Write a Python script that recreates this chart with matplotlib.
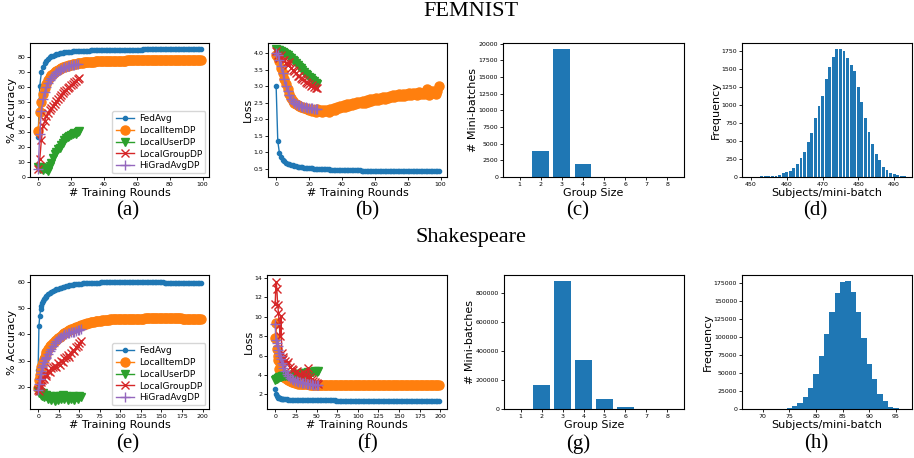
import numpy as np
import matplotlib
matplotlib.use("Agg")
import matplotlib.pyplot as plt

# ---------------- FEMNIST ----------------
fem_rounds = np.arange(100)
fem_rounds_dp = np.arange(26)

fem_acc_fedavg = [26.5, 61.0, 70.2, 73.8, 76.3, 77.9, 79.1, 80.0, 80.7, 81.3,
                  81.8, 82.2, 82.5, 82.8, 83.0, 83.2, 83.4, 83.5, 83.7, 83.8,
                  83.9, 84.0, 84.1, 84.2, 84.2, 84.3, 84.4, 84.4, 84.5, 84.5,
                  84.6, 84.6, 84.7, 84.7, 84.7, 84.8, 84.8, 84.8, 84.9, 84.9,
                  84.9, 85.0, 85.0, 85.0, 85.0, 85.1, 85.1, 85.1, 85.1, 85.1,
                  85.2, 85.2, 85.2, 85.2, 85.2, 85.2, 85.3, 85.3, 85.3, 85.3,
                  85.3, 85.3, 85.3, 85.3, 85.4, 85.4, 85.4, 85.4, 85.4, 85.4,
                  85.4, 85.4, 85.4, 85.5, 85.5, 85.5, 85.5, 85.5, 85.5, 85.5,
                  85.5, 85.5, 85.5, 85.5, 85.6, 85.6, 85.6, 85.6, 85.6, 85.6,
                  85.6, 85.6, 85.6, 85.6, 85.6, 85.6, 85.6, 85.6, 85.6, 85.6]
fem_acc_item = [31.0, 43.5, 50.0, 55.5, 59.5, 62.5, 64.8, 66.6, 68.0, 69.2,
                70.2, 71.0, 71.7, 72.3, 72.9, 73.4, 73.8, 74.2, 74.6, 74.9,
                75.2, 75.5, 75.7, 75.9, 76.1, 76.3, 76.4, 76.6, 76.7, 76.8,
                76.9, 77.0, 77.1, 77.2, 77.2, 77.3, 77.4, 77.4, 77.5, 77.5,
                77.6, 77.6, 77.6, 77.7, 77.7, 77.7, 77.8, 77.8, 77.8, 77.8,
                77.9, 77.9, 77.9, 77.9, 78.0, 78.0, 78.0, 78.0, 78.0, 78.1,
                78.1, 78.1, 78.1, 78.1, 78.1, 78.2, 78.2, 78.2, 78.2, 78.2,
                78.2, 78.2, 78.3, 78.3, 78.3, 78.3, 78.3, 78.3, 78.3, 78.3,
                78.3, 78.4, 78.4, 78.4, 78.4, 78.4, 78.4, 78.4, 78.4, 78.4,
                78.4, 78.4, 78.5, 78.5, 78.5, 78.5, 78.5, 78.5, 78.5, 78.5]
fem_acc_user = [6.5, 5.0, 6.5, 4.5, 6.0, 5.5, 4.0, 7.0, 9.5, 12.5,
                15.0, 16.5, 18.5, 19.5, 21.5, 23.0, 24.5, 26.0, 26.5, 27.5,
                28.0, 28.5, 29.5, 28.5, 30.0, 30.5]
fem_acc_group = [5.0, 12.0, 25.0, 34.0, 37.5, 40.5, 42.5, 44.5, 46.0, 47.5,
                 49.0, 50.5, 52.0, 53.5, 55.0, 56.5, 57.5, 58.5, 59.5, 60.5,
                 61.5, 62.5, 63.5, 64.5, 65.5, 66.0]
fem_acc_higrad = [5.0, 29.0, 44.0, 52.0, 57.0, 60.5, 63.0, 65.0, 66.5, 67.8,
                  69.0, 70.0, 71.0, 71.7, 72.3, 72.9, 73.4, 73.8, 74.2, 74.5,
                  74.8, 75.0, 75.2, 75.4, 75.5]

fem_loss_fedavg = [2.99, 1.33, 0.97, 0.84, 0.77, 0.72, 0.68, 0.65, 0.63, 0.61,
                   0.60, 0.58, 0.57, 0.56, 0.55, 0.55, 0.54, 0.53, 0.53, 0.52,
                   0.52, 0.51, 0.51, 0.50, 0.50, 0.50, 0.49, 0.49, 0.49, 0.48,
                   0.48, 0.48, 0.48, 0.47, 0.47, 0.47, 0.47, 0.47, 0.46, 0.46,
                   0.46, 0.46, 0.46, 0.46, 0.45, 0.45, 0.45, 0.45, 0.45, 0.45,
                   0.45, 0.45, 0.44, 0.44, 0.44, 0.44, 0.44, 0.44, 0.44, 0.44,
                   0.44, 0.44, 0.44, 0.44, 0.44, 0.44, 0.44, 0.44, 0.44, 0.44,
                   0.44, 0.44, 0.44, 0.44, 0.44, 0.44, 0.44, 0.44, 0.44, 0.44,
                   0.43, 0.43, 0.43, 0.43, 0.43, 0.43, 0.43, 0.43, 0.43, 0.43,
                   0.43, 0.43, 0.43, 0.43, 0.43, 0.43, 0.43, 0.43, 0.43, 0.43]
fem_loss_item = [3.95, 3.85, 3.75, 3.55, 3.40, 3.20, 3.05, 2.90, 2.75, 2.65,
                 2.55, 2.50, 2.45, 2.42, 2.40, 2.38, 2.36, 2.35, 2.33, 2.30,
                 2.28, 2.30, 2.25, 2.27, 2.22, 2.30, 2.24, 2.27, 2.21, 2.26,
                 2.23, 2.28, 2.22, 2.30, 2.26, 2.33, 2.29, 2.36, 2.33, 2.40,
                 2.36, 2.42, 2.38, 2.45, 2.40, 2.47, 2.43, 2.50, 2.45, 2.52,
                 2.48, 2.53, 2.49, 2.56, 2.50, 2.58, 2.53, 2.60, 2.55, 2.62,
                 2.57, 2.63, 2.58, 2.65, 2.60, 2.67, 2.62, 2.68, 2.64, 2.70,
                 2.66, 2.72, 2.67, 2.73, 2.69, 2.75, 2.70, 2.76, 2.71, 2.77,
                 2.73, 2.78, 2.74, 2.79, 2.75, 2.80, 2.74, 2.81, 2.76, 2.80,
                 2.75, 2.82, 2.92, 2.74, 2.85, 2.78, 2.84, 2.76, 2.86, 3.00]
fem_loss_user = [4.12, 4.10, 4.08, 4.06, 4.03, 4.00, 3.97, 3.93, 3.89, 3.85,
                 3.80, 3.75, 3.70, 3.64, 3.59, 3.54, 3.48, 3.43, 3.38, 3.33,
                 3.28, 3.24, 3.19, 3.15, 3.10, 3.06]
fem_loss_group = [4.05, 3.95, 3.85, 3.95, 3.78, 3.80, 3.70, 3.65, 3.72, 3.55,
                  3.50, 3.45, 3.40, 3.30, 3.32, 3.25, 3.20, 3.18, 3.12, 3.10,
                  3.05, 3.00, 3.02, 2.96, 2.95, 2.93]
fem_loss_higrad = [4.00, 3.95, 3.80, 3.60, 3.40, 3.20, 3.00, 2.85, 2.72, 2.62,
                   2.55, 2.50, 2.46, 2.43, 2.42, 2.40, 2.38, 2.37, 2.36, 2.35,
                   2.34, 2.33, 2.33, 2.32, 2.32, 2.31]

group_sizes = [1, 2, 3, 4, 5, 6, 7, 8]
fem_group_counts = [60, 3880, 19140, 1910, 70, 50, 40, 30]

fem_subjects = np.arange(450, 495)
fem_subject_freq = [5, 5, 5, 8, 8, 10, 10, 20, 25, 50,
                    65, 80, 120, 175, 260, 350, 480, 610, 820, 980,
                    1130, 1360, 1530, 1670, 1770, 1770, 1750, 1650, 1560, 1470,
                    1250, 1040, 820, 630, 460, 320, 240, 140, 100, 60,
                    40, 25, 15, 10, 5]

# ---------------- Shakespeare ----------------
sh_rounds = list(range(10)) + list(range(10, 200, 2))
sh_rounds_dp = list(range(10)) + list(range(10, 53, 2))

sh_acc_fedavg = [26.6, 43.3, 47.1, 49.4, 50.9, 51.9, 52.7, 53.3, 53.8, 54.2,
                 54.5, 55.1, 55.6, 56.0, 56.4, 56.7, 57.0, 57.3, 57.5, 57.7,
                 57.9, 58.1, 58.3, 58.4, 58.6, 58.7, 58.8, 58.9, 59.0, 59.1,
                 59.1, 59.2, 59.3, 59.3, 59.4, 59.4, 59.5, 59.5, 59.5, 59.6,
                 59.6, 59.6, 59.6, 59.7, 59.7, 59.7, 59.7, 59.7, 59.7, 59.7,
                 59.8, 59.8, 59.8, 59.8, 59.8, 59.8, 59.8, 59.8, 59.8, 59.8,
                 59.8, 59.8, 59.8, 59.8, 59.8, 59.8, 59.8, 59.8, 59.8, 59.8,
                 59.7, 59.7, 59.7, 59.7, 59.7, 59.7, 59.7, 59.7, 59.7, 59.7,
                 59.7, 59.7, 59.6, 59.6, 59.6, 59.6, 59.6, 59.5, 59.5, 59.5,
                 59.5, 59.5, 59.4, 59.4, 59.4, 59.4, 59.4, 59.4, 59.3, 59.3,
                 59.3, 59.3, 59.3, 59.3, 59.3]
sh_acc_item = [19.5, 22.5, 24.5, 26.0, 27.5, 28.5, 29.5, 30.5, 31.5, 32.5,
               33.3, 34.5, 35.5, 35.8, 36.6, 37.3, 37.9, 38.5, 39.0, 39.5,
               40.0, 40.4, 40.8, 41.2, 41.5, 41.8, 42.1, 42.4, 42.6, 42.9,
               43.1, 43.4, 43.6, 43.8, 44.0, 44.2, 44.4, 44.5, 44.7, 44.8,
               44.9, 45.0, 45.1, 45.2, 45.3, 45.4, 45.4, 45.5, 45.5, 45.6,
               45.6, 45.7, 45.7, 45.7, 45.8, 45.8, 45.8, 45.8, 45.9, 45.9,
               45.9, 45.9, 45.9, 45.9, 45.9, 45.9, 45.9, 45.9, 45.9, 45.9,
               46.0, 46.0, 46.0, 46.0, 46.0, 46.0, 46.0, 46.0, 46.0, 46.0,
               46.0, 46.0, 46.0, 46.0, 46.0, 46.0, 46.0, 46.0, 46.0, 46.0,
               46.0, 46.0, 46.0, 45.9, 45.9, 45.9, 45.9, 45.9, 45.9, 45.9,
               45.9, 45.9, 45.8, 45.8, 45.8]
sh_acc_user = [18.5, 17.5, 18.0, 17.0, 17.5, 16.5, 17.5, 16.0, 17.0, 16.5,
               17.0, 15.5, 16.5, 15.0, 16.0, 14.5, 16.5, 15.0, 16.5, 15.5,
               17.0, 15.5, 16.5, 15.0, 16.0, 15.5, 16.5, 15.0, 16.0, 15.5,
               16.5, 16.0]
sh_acc_group = [19.0, 18.5, 19.5, 20.5, 22.0, 22.5, 23.5, 23.0, 24.5, 24.0,
                25.0, 26.0, 25.5, 27.0, 27.5, 28.0, 27.5, 29.0, 28.5, 30.0,
                29.5, 31.0, 31.5, 32.0, 31.5, 33.0, 34.0, 33.5, 35.0, 35.5,
                36.5, 37.5]
sh_acc_higrad = [19.0, 21.0, 23.0, 25.0, 26.0, 27.5, 28.5, 29.5, 30.5, 31.0,
                 31.5, 32.5, 33.5, 34.5, 35.5, 36.5, 37.5, 38.0, 38.5, 39.0,
                 39.5, 40.0, 40.0, 40.5, 40.5, 41.0, 41.0, 41.0, 41.3, 41.5,
                 41.5, 41.8]

sh_loss_fedavg = [2.55, 2.00, 1.85, 1.75, 1.68, 1.63, 1.60, 1.57, 1.55, 1.53,
                  1.52, 1.50, 1.48, 1.47, 1.46, 1.45, 1.44, 1.43, 1.42, 1.42,
                  1.41, 1.41, 1.40, 1.40, 1.40, 1.39, 1.39, 1.39, 1.39, 1.38,
                  1.38, 1.38, 1.38, 1.38, 1.38, 1.38, 1.38, 1.38, 1.38, 1.38,
                  1.38, 1.38, 1.37, 1.37, 1.37, 1.37, 1.37, 1.37, 1.37, 1.37,
                  1.37, 1.37, 1.37, 1.37, 1.37, 1.37, 1.37, 1.37, 1.37, 1.37,
                  1.37, 1.37, 1.37, 1.37, 1.37, 1.37, 1.37, 1.37, 1.37, 1.37,
                  1.36, 1.36, 1.36, 1.36, 1.36, 1.36, 1.36, 1.36, 1.36, 1.36,
                  1.36, 1.36, 1.36, 1.36, 1.36, 1.36, 1.36, 1.36, 1.36, 1.36,
                  1.36, 1.36, 1.36, 1.36, 1.36, 1.36, 1.36, 1.36, 1.36, 1.36,
                  1.36, 1.36, 1.36, 1.36, 1.36]
sh_loss_item = [7.8, 9.4, 6.7, 6.0, 5.5, 4.6, 5.2, 4.4, 4.2, 4.0,
                3.9, 3.7, 3.6, 3.5, 3.4, 3.3, 3.25, 3.2, 3.15, 3.1,
                3.10, 3.08, 3.06, 3.05, 3.04, 3.03, 3.02, 3.02, 3.01, 3.01,
                3.00, 2.98, 3.01, 2.99, 3.00, 2.97, 3.00, 2.98, 3.01, 2.99,
                2.98, 3.00, 2.97, 2.99, 3.00, 2.98, 2.99, 3.01, 2.98, 3.00,
                2.99, 2.97, 3.00, 2.98, 3.01, 2.99, 2.98, 3.00, 2.99, 3.01,
                2.98, 3.00, 2.99, 3.02, 2.99, 3.01, 3.00, 2.98, 3.01, 3.00,
                3.01, 2.99, 3.02, 3.00, 3.01, 2.99, 3.02, 3.00, 3.01, 3.00,
                2.99, 3.01, 3.00, 3.02, 2.99, 3.01, 3.00, 2.98, 3.01, 3.00,
                3.00, 2.99, 3.01, 3.00, 2.98, 3.01, 3.00, 2.99, 3.01, 3.00,
                2.99, 3.01, 3.00, 2.99, 3.01]
sh_loss_user = [3.45, 3.55, 3.60, 3.70, 3.65, 3.75, 3.80, 3.75, 3.85, 3.90,
                3.85, 3.95, 3.90, 4.00, 3.95, 4.05, 4.00, 4.10, 4.05, 4.15,
                4.10, 4.20, 4.15, 4.25, 4.20, 4.30, 4.25, 4.35, 4.30, 4.40,
                4.35, 4.45]
sh_loss_group = [11.3, 13.6, 12.9, 11.2, 10.4, 9.2, 8.0, 10.1, 6.3, 5.9,
                 5.7, 5.4, 5.1, 5.3, 4.8, 4.6, 4.5, 4.2, 4.4, 4.0,
                 4.1, 3.9, 4.3, 4.0, 3.8, 4.7, 3.8, 3.6, 3.4, 3.3,
                 3.2, 3.1]
sh_loss_higrad = [9.3, 7.6, 7.3, 7.0, 6.6, 6.3, 6.0, 5.6, 5.2, 5.0,
                  4.7, 4.4, 4.1, 3.9, 3.7, 3.6, 3.5, 3.4, 3.35, 3.3,
                  3.25, 3.2, 3.2, 3.15, 3.1, 3.1, 3.05, 3.05, 3.0, 3.0,
                  3.0, 3.0]

sh_group_counts = [1000, 168000, 880000, 341000, 71500, 16000, 2000, 1000]

sh_subjects = np.arange(74, 97)
sh_subject_freq = [200, 1000, 4600, 8400, 17000, 29700, 49000, 73000, 103500, 134000,
                   161000, 176000, 177000, 162000, 134500, 99000, 63000, 41000, 21000, 10500,
                   3200, 1000, 200]

labels = ["FedAvg", "LocalItemDP", "LocalUserDP", "LocalGroupDP", "HiGradAvgDP"]
styles = [dict(color="C0", marker="o", ms=3),
          dict(color="C1", marker="o", ms=6.5),
          dict(color="C2", marker="v", ms=6),
          dict(color="C3", marker="x", ms=6),
          dict(color="C4", marker="+", ms=7)]

W, H = 914, 458
fig = plt.figure(figsize=(W / 100, H / 100), dpi=100)


def px_axes(l, t, r, b):
    ax = fig.add_axes([l / W, 1 - b / H, (r - l) / W, (b - t) / H])
    ax.tick_params(labelsize=4.5, length=2, width=0.6, pad=1.5)
    return ax


def curves(ax, xs, ys, legend=False):
    for x, y, lab, st in zip(xs, ys, labels, styles):
        ax.plot(x, y, label=lab, lw=1, **st)
    if legend:
        ax.legend(loc="lower right", fontsize=6.5, handlelength=2.0, labelspacing=0.3,
                  borderpad=0.35, handletextpad=0.6, borderaxespad=0.4)


serif = "Liberation Serif"
fig.text(0.515, 0.975, "FEMNIST", ha="center", va="center", family=serif, fontsize=16)
fig.text(0.515, 0.482, "Shakespeare", ha="center", va="center", family=serif, fontsize=16)

# (a)
ax = px_axes(30, 43, 209, 177)
curves(ax, [fem_rounds, fem_rounds, fem_rounds_dp, fem_rounds_dp, fem_rounds_dp[:25]],
       [fem_acc_fedavg, fem_acc_item, fem_acc_user, fem_acc_group, fem_acc_higrad], legend=True)
ax.set_yticks(range(0, 90, 10))
ax.set_xlabel("# Training Rounds", fontsize=8, labelpad=1)
ax.set_ylabel("% Accuracy", fontsize=8, labelpad=0.5)

# (b)
ax = px_axes(268, 43, 447, 177)
curves(ax, [fem_rounds, fem_rounds, fem_rounds_dp, fem_rounds_dp, fem_rounds_dp],
       [fem_loss_fedavg, fem_loss_item, fem_loss_user, fem_loss_group, fem_loss_higrad])
ax.set_xlabel("# Training Rounds", fontsize=8, labelpad=1)
ax.set_ylabel("Loss", fontsize=8, labelpad=0.5)

# (c)
ax = px_axes(503, 43, 684, 177)
ax.bar(group_sizes, fem_group_counts, width=0.8, color="C0")
ax.set_xticks(group_sizes)
ax.set_yticks(range(0, 20001, 2500))
ax.set_xlabel("Group Size", fontsize=8, labelpad=1)
ax.set_ylabel("# Mini-batches", fontsize=8, labelpad=0.5)

# (d)
ax = px_axes(742, 43, 912, 177)
ax.bar(fem_subjects, fem_subject_freq, width=0.8, color="C0")
ax.set_xlim(447.5, 495)
ax.set_yticks(range(0, 1751, 250))
ax.set_xlabel("Subjects/mini-batch", fontsize=8, labelpad=1)
ax.set_ylabel("Frequency", fontsize=8, labelpad=0.5)

# (e)
ax = px_axes(30, 275, 209, 409)
curves(ax, [sh_rounds, sh_rounds, sh_rounds_dp, sh_rounds_dp, sh_rounds_dp],
       [sh_acc_fedavg, sh_acc_item, sh_acc_user, sh_acc_group, sh_acc_higrad], legend=True)
ax.set_xticks(range(0, 201, 25))
ax.set_yticks(range(20, 61, 10))
ax.set_ylim(11.6, 62.5)
ax.set_xlabel("# Training Rounds", fontsize=8, labelpad=1)
ax.set_ylabel("% Accuracy", fontsize=8, labelpad=0.5)

# (f)
ax = px_axes(267, 275, 447, 409)
curves(ax, [sh_rounds, sh_rounds, sh_rounds_dp, sh_rounds_dp, sh_rounds_dp],
       [sh_loss_fedavg, sh_loss_item, sh_loss_user, sh_loss_group, sh_loss_higrad])
ax.set_xticks(range(0, 201, 25))
ax.set_yticks(range(2, 15, 2))
ax.set_ylim(0.5, 14.3)
ax.set_xlabel("# Training Rounds", fontsize=8, labelpad=1)
ax.set_ylabel("Loss", fontsize=8, labelpad=0.5)

# (g)
ax = px_axes(504, 275, 684, 409)
ax.bar(group_sizes, sh_group_counts, width=0.8, color="C0")
ax.set_xticks(group_sizes)
ax.set_xlabel("Group Size", fontsize=8, labelpad=1)
ax.set_ylabel("# Mini-batches", fontsize=8, labelpad=0.5)

# (h)
ax = px_axes(742, 275, 912, 409)
ax.bar(sh_subjects, sh_subject_freq, width=1.0, color="C0")
ax.set_xlim(66.1, 98)
ax.set_xticks(range(70, 96, 5))
ax.set_xlabel("Subjects/mini-batch", fontsize=8, labelpad=1)
ax.set_ylabel("Frequency", fontsize=8, labelpad=0.5)

for lab, x, y in [("(a)", 128, 211), ("(b)", 367, 211), ("(c)", 578, 211), ("(d)", 815, 211),
                  ("(e)", 128, 444), ("(f)", 368, 444), ("(g)", 578, 444), ("(h)", 816, 444)]:
    fig.text(x / W, 1 - y / H, lab, ha="center", va="center", family=serif, fontsize=15)

fig.savefig("out.png", dpi=100)
